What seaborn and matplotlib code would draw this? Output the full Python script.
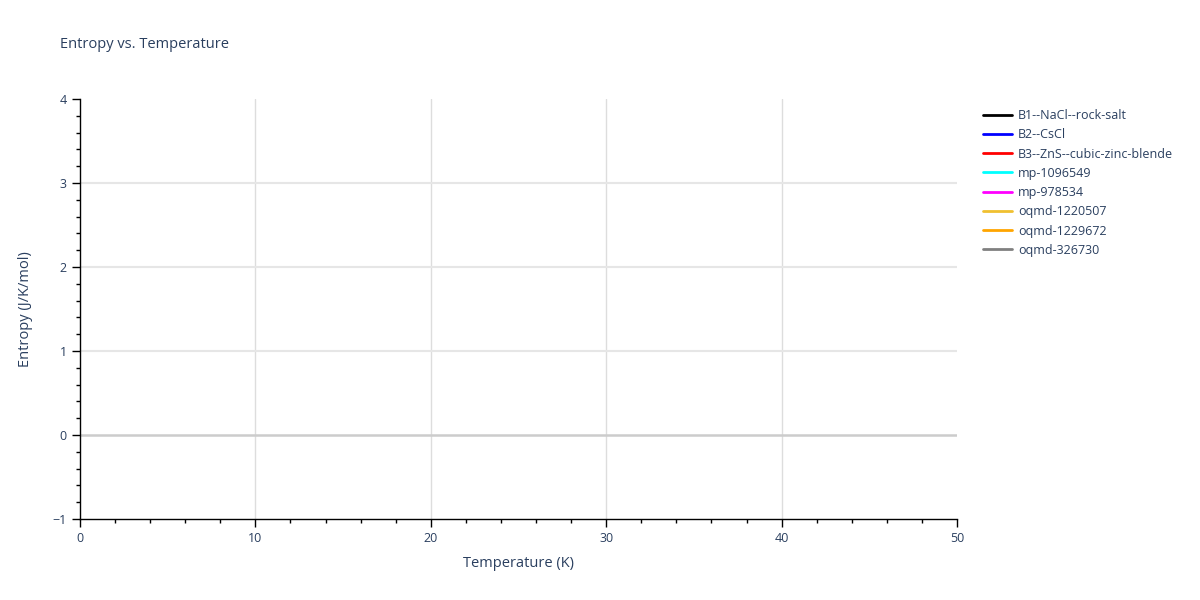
import numpy as np
import pandas as pd
import seaborn as sns
import matplotlib.pyplot as plt
from matplotlib.ticker import MultipleLocator

# Series names and colours (the reference shows no visible data points)
series_names = ['B1--NaCl--rock-salt', 'B2--CsCl', 'B3--ZnS--cubic-zinc-blende',
                'mp-1096549', 'mp-978534', 'oqmd-1220507', 'oqmd-1229672', 'oqmd-326730']
series_colors = ['black', 'blue', 'red', 'cyan', 'magenta', '#f0c030', 'orange', 'grey']
temperature = {name: [] for name in series_names}
entropy = {name: [] for name in series_names}

sns.set_theme(style='white')
plt.rcParams['font.family'] = ['Open Sans', 'DejaVu Sans']
txt = '#2a3f5f'

fig = plt.figure(figsize=(12, 6), dpi=100)
ax = fig.add_axes([80 / 1200, 1 - 519 / 600, 877 / 1200, 420 / 600])

for name, col in zip(series_names, series_colors):
    sns.lineplot(x=np.array(temperature[name], dtype=float),
                 y=np.array(entropy[name], dtype=float),
                 color=col, ax=ax, linewidth=2)
    ax.plot(temperature[name], entropy[name], color=col, linewidth=2, label=name)

ax.set_xlim(0, 50)
ax.set_ylim(-1, 4)
ax.xaxis.set_major_locator(MultipleLocator(10))
ax.xaxis.set_minor_locator(MultipleLocator(2))
ax.yaxis.set_major_locator(MultipleLocator(1))
ax.yaxis.set_minor_locator(MultipleLocator(0.2))

for x in [10, 20, 30, 40]:
    ax.axvline(x, color='#dddddd', linewidth=1, zorder=0)
for y in [1, 2, 3]:
    ax.axhline(y, color='#e6e6e6', linewidth=1.5, zorder=0)
ax.axhline(0, color='#cccccc', linewidth=1.8, zorder=0.5)

for s in ['top', 'right']:
    ax.spines[s].set_visible(False)
for s in ['left', 'bottom']:
    ax.spines[s].set_color('black')
    ax.spines[s].set_linewidth(1)

ax.tick_params(axis='both', which='major', direction='out', length=6, width=1,
               color='black', labelsize=9, labelcolor=txt, left=True, bottom=True)
ax.tick_params(axis='both', which='minor', direction='out', length=3, width=1,
               color='black', left=True, bottom=True)
ax.set_yticks([-1, 0, 1, 2, 3, 4])
ax.set_yticklabels(['\u22121', '0', '1', '2', '3', '4'])

ax.set_xlabel('Temperature (K)', fontsize=10.5, color=txt, labelpad=8)
ax.set_ylabel('Entropy (J/K/mol)', fontsize=10.5, color=txt, labelpad=14)
fig.text(60 / 1200, 1 - 45 / 600, 'Entropy vs. Temperature', fontsize=10.5,
         color=txt, va='center', ha='left')

ax.legend(loc='upper left', bbox_to_anchor=((978 - 80) / 877, 1 - 5 / 420), frameon=False,
          fontsize=9, labelcolor=txt, handlelength=2.3, handletextpad=0.5,
          labelspacing=0.5, borderaxespad=0)

fig.savefig('out.png', dpi=100)
